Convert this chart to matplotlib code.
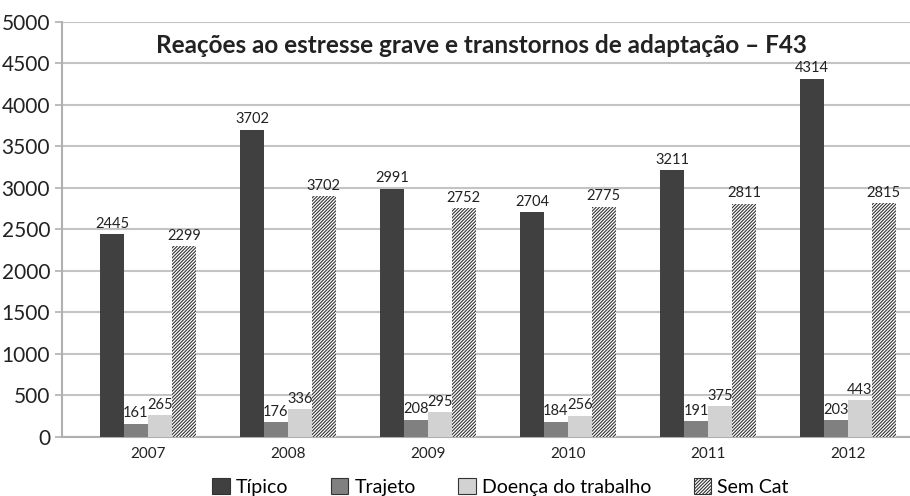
import numpy as np
import matplotlib.pyplot as plt

plt.rcParams['font.family'] = ['Lato', 'DejaVu Sans']
plt.rcParams['hatch.linewidth'] = 0.8

years = ['2007', '2008', '2009', '2010', '2011', '2012']
series = ['Típico', 'Trajeto', 'Doença do trabalho', 'Sem Cat']
tipico = [2445, 3702, 2991, 2704, 3211, 4314]
trajeto = [161, 176, 208, 184, 191, 203]
doenca = [265, 336, 295, 256, 375, 443]
sem_cat = [2299, 2900, 2752, 2775, 2811, 2815]
# labels as printed in the source (2008 Sem Cat label differs from bar height)
sem_cat_labels = ['2299', '3702', '2752', '2775', '2811', '2815']

colors = ['#404040', '#808080', '#d2d2d2', 'white']
hatches = [None, None, None, '//////////']

fig = plt.figure(figsize=(9.1, 4.96), dpi=100)
ax = fig.add_axes([0.068, 0.119, 0.95, 0.837])

x = np.arange(len(years))
w = 0.171
data = [tipico, trajeto, doenca, sem_cat]
labels = [[str(v) for v in tipico], [str(v) for v in trajeto],
          [str(v) for v in doenca], sem_cat_labels]
for i, (vals, name) in enumerate(zip(data, series)):
    pos = x + (i - 1.5) * w
    ax.bar(pos, vals, w, color=colors[i], hatch=hatches[i],
           edgecolor='#333333' if hatches[i] else colors[i],
           linewidth=0, label=name, zorder=3)
    for p, v, t in zip(pos, vals, labels[i]):
        ax.text(p, v + 40, t, ha='center', va='bottom', fontsize=10.5,
                color='#222222', zorder=4)

ax.set_ylim(0, 5000)
ax.set_yticks(np.arange(0, 5001, 500))
ax.set_xlim(-0.614, 5.56)
ax.set_xticks(x)
ax.set_xticklabels(years)
ax.grid(axis='y', color='#c4c4c4', linewidth=1.5, zorder=0)
for s in ['top', 'right']:
    ax.spines[s].set_visible(False)
for s in ['left', 'bottom']:
    ax.spines[s].set_color('#b0b0b0')
    ax.spines[s].set_linewidth(1.5)
ax.tick_params(axis='y', labelsize=15, length=5, color='#b0b0b0', width=1.2,
               labelcolor='#222222')
ax.tick_params(axis='x', labelsize=11, length=0, pad=7, labelcolor='#222222')

ax.text(0.485, 0.942, 'Reações ao estresse grave e transtornos de adaptação – F43',
        transform=ax.transAxes, ha='center', va='center', fontsize=17.5,
        fontweight='bold', color='#222222')

leg = fig.legend(loc='lower center', bbox_to_anchor=(0.55, -0.035), ncol=4,
                 frameon=False, fontsize=14, handlelength=0.9, handleheight=0.9,
                 handletextpad=0.3, columnspacing=2.2)
for h in leg.legend_handles:
    h.set_edgecolor('#333333')
    h.set_linewidth(0.8)

fig.savefig('out.png', dpi=100)
